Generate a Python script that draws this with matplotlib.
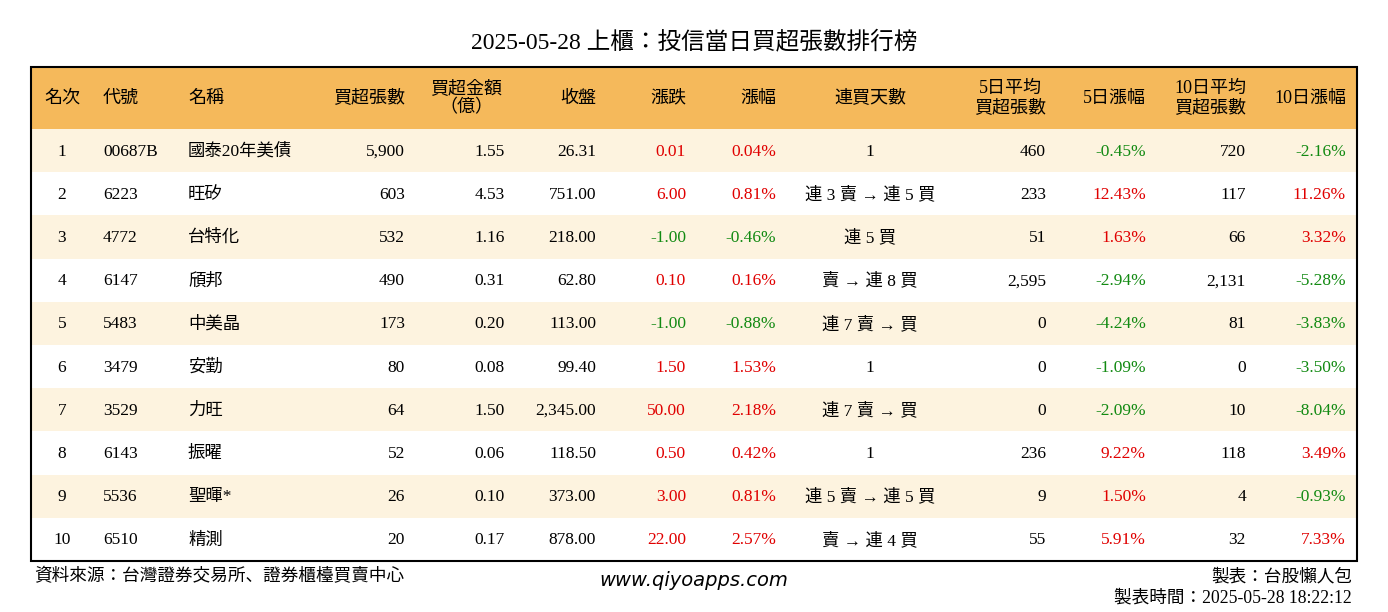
import matplotlib
matplotlib.use("Agg")
from matplotlib import pyplot as plt
from matplotlib.patches import Rectangle
from matplotlib import font_manager

nombres = {f.name for f in font_manager.fontManager.ttflist}
cjk = [n for n in ["Noto Sans CJK TC", "Noto Sans CJK JP", "Noto Sans CJK SC", "Noto Sans CJK KR"] if n in nombres]
plt.rcParams["font.family"] = ["Liberation Serif"] + cjk[:1]

titulo = "2025-05-28 上櫃：投信當日買超張數排行榜"
encabezados = ["名次", "代號", "名稱", "買超張數", "買超金額\n（億）", "收盤", "漲跌", "漲幅",
               "連買天數", "5日平均\n買超張數", "5日漲幅", "10日平均\n買超張數", "10日漲幅"]

rango = ["1", "2", "3", "4", "5", "6", "7", "8", "9", "10"]
codigo = ["00687B", "6223", "4772", "6147", "5483", "3479", "3529", "6143", "5536", "6510"]
nombre = ["國泰20年美債", "旺矽", "台特化", "頎邦", "中美晶", "安勤", "力旺", "振曜", "聖暉*", "精測"]
compra_lotes = ["5,900", "603", "532", "490", "173", "80", "64", "52", "26", "20"]
compra_monto = ["1.55", "4.53", "1.16", "0.31", "0.20", "0.08", "1.50", "0.06", "0.10", "0.17"]
cierre = ["26.31", "751.00", "218.00", "62.80", "113.00", "99.40", "2,345.00", "118.50", "373.00", "878.00"]
cambio = ["0.01", "6.00", "-1.00", "0.10", "-1.00", "1.50", "50.00", "0.50", "3.00", "22.00"]
cambio_pct = ["0.04%", "0.81%", "-0.46%", "0.16%", "-0.88%", "1.53%", "2.18%", "0.42%", "0.81%", "2.57%"]
dias = ["1", "連 3 賣 → 連 5 買", "連 5 買", "賣 → 連 8 買", "連 7 賣 → 買", "1",
        "連 7 賣 → 買", "1", "連 5 賣 → 連 5 買", "賣 → 連 4 買"]
prom5 = ["460", "233", "51", "2,595", "0", "0", "0", "236", "9", "55"]
pct5 = ["-0.45%", "12.43%", "1.63%", "-2.94%", "-4.24%", "-1.09%", "-2.09%", "9.22%", "1.50%", "5.91%"]
prom10 = ["720", "117", "66", "2,131", "81", "0", "10", "118", "4", "32"]
pct10 = ["-2.16%", "11.26%", "3.32%", "-5.28%", "-3.83%", "-3.50%", "-8.04%", "3.49%", "-0.93%", "7.33%"]

columnas = [rango, codigo, nombre, compra_lotes, compra_monto, cierre, cambio, cambio_pct,
            dias, prom5, pct5, prom10, pct10]
coloreadas = {6, 7, 10, 12}

# posiciones en pixeles: (x, alineacion)
pos_datos = [(62, "center"), (103, "left"), (188, "left"), (405, "right"), (505, "right"),
             (596, "right"), (686, "right"), (776, "right"), (870, "center"), (1046, "right"),
             (1146, "right"), (1246, "right"), (1346, "right")]
pos_enc = [(62, "center"), (103, "left"), (188, "left"), (405, "right"), (466, "center"),
           (596, "right"), (686, "right"), (776, "right"), (870, "center"), (1046, "right"),
           (1146, "right"), (1246, "right"), (1346, "right")]

ROJO = "#E00000"
VERDE = "#128A12"

fig = plt.figure(figsize=(13.88, 6.12), dpi=100)
ax = fig.add_axes([0, 0, 1, 1])
ax.set_xlim(0, 1388)
ax.set_ylim(612, 0)
ax.axis("off")

ax.text(694, 42, titulo, ha="center", va="center", fontsize=17)

x0, x1 = 31, 1357
y_top, y_enc = 67, 129
alto = 43.2
ax.add_patch(Rectangle((x0, y_top), x1 - x0, y_enc - y_top, color="#F5B95B", lw=0))
for i in range(len(rango)):
    y = y_enc + i * alto
    if i % 2 == 0:
        ax.add_patch(Rectangle((x0, y), x1 - x0, alto, color="#FDF3DF", lw=0))
    for j, col in enumerate(columnas):
        val = col[i]
        color = "black"
        if j in coloreadas:
            color = VERDE if val.startswith("-") else ROJO
        x, ha = pos_datos[j]
        ax.text(x, y + alto / 2 + 1, val, ha=ha, va="center", fontsize=12.5, color=color)
y_fin = y_enc + len(rango) * alto
ax.add_patch(Rectangle((x0, y_top), x1 - x0, y_fin - y_top, fill=False, ec="black", lw=1.5))

for j, h in enumerate(encabezados):
    x, ha = pos_enc[j]
    ax.text(x, (y_top + y_enc) / 2, h, ha=ha, va="center", fontsize=13,
            linespacing=1.15, multialignment="center")

ax.text(34, 577, "資料來源：台灣證券交易所、證券櫃檯買賣中心", ha="left", va="center", fontsize=12.7)
ax.text(694, 580, "www.qiyoapps.com", ha="center", va="center", fontsize=14,
        style="italic", family="DejaVu Sans")
ax.text(1352, 577, "製表：台股懶人包", ha="right", va="center", fontsize=12.7)
ax.text(1352, 598, "製表時間：2025-05-28 18:22:12", ha="right", va="center", fontsize=12.7)

fig.savefig("out.png", dpi=100, facecolor="white")
